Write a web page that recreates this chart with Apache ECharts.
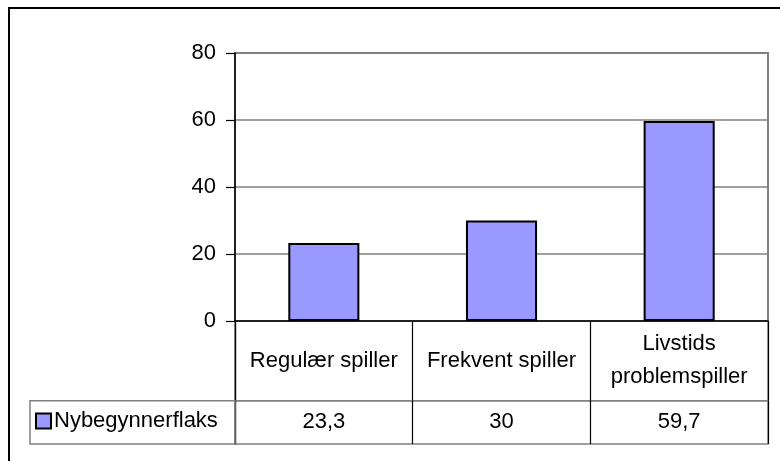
<!DOCTYPE html>
<html>
<head>
<meta charset="utf-8">
<script src="https://cdn.jsdelivr.net/npm/echarts@6/dist/echarts.min.js"></script>
<style>
html,body{margin:0;padding:0;background:#fff;}
#c{width:780px;height:461px;}
</style>
</head>
<body>
<div id="c"></div>
<script>
const categories = ['Regulær spiller', 'Frekvent spiller', 'Livstids\nproblemspiller'];
const seriesName = 'Nybegynnerflaks';
const values = [23.3, 30, 59.7];
const yMin = 0, yMax = 80, yInterval = 20;

const FONT = "'Liberation Sans Narrow', 'Arial Narrow', 'Liberation Sans', Arial, sans-serif";
const FS = 22;
const fmt = v => String(v).replace('.', ',');

const chart = echarts.init(document.getElementById('c'), null, {renderer: 'canvas'});

function tableX(idx) {
  return {type: 'category', gridIndex: idx, data: categories,
    axisLine: {show: false}, axisTick: {show: false}, axisLabel: {show: false},
    splitLine: {show: true, lineStyle: {color: '#000', width: 1.2}}};
}
function tableY(idx, row) {
  return {type: 'category', gridIndex: idx, data: [row],
    axisLine: {show: true, lineStyle: {color: '#000', width: 1.2}},
    axisTick: {show: false}, axisLabel: {show: false}, splitLine: {show: false}};
}
const cellLabel = {show: true, position: 'inside', color: '#000', fontSize: FS, fontFamily: FONT,
  textBorderWidth: 0, textShadowBlur: 0, opacity: 1};

const option = {
  animation: false,
  backgroundColor: '#ffffff',
  textStyle: {fontFamily: FONT},
  grid: [
    {left: 235, right: 12, top: 53, bottom: 140, show: true, borderColor: '#808080', borderWidth: 2},
    {left: 235, right: 12, top: 321, bottom: 60.3, show: true, borderColor: '#808080', borderWidth: 1.5},
    {left: 235, right: 12, top: 400.7, bottom: 17, show: true, borderColor: '#808080', borderWidth: 1.5}
  ],
  xAxis: [
    {type: 'category', gridIndex: 0, data: categories,
     axisLine: {show: true, lineStyle: {color: '#000', width: 1.5}},
     axisTick: {show: false}, axisLabel: {show: false}, splitLine: {show: false}},
    tableX(1),
    tableX(2)
  ],
  yAxis: [
    {type: 'value', gridIndex: 0, min: yMin, max: yMax, interval: yInterval,
     axisLine: {show: true, lineStyle: {color: '#000', width: 1.5}},
     axisTick: {show: true, length: 9, lineStyle: {color: '#000', width: 1.2}},
     axisLabel: {color: '#000', fontSize: FS, fontFamily: FONT, margin: 19},
     splitLine: {show: true, lineStyle: {color: '#808080', width: 1.5}}},
    tableY(1, 'names'),
    tableY(2, 'values')
  ],
  legend: {
    show: true, left: 35, top: 410, itemWidth: 15, itemHeight: 15, itemGap: 8,
    icon: 'rect', padding: 0,
    textStyle: {fontSize: FS, fontFamily: FONT, color: '#000', padding: [0, 0, 0, -2]},
    data: [{name: seriesName, itemStyle: {color: '#9999FF', borderColor: '#000', borderWidth: 2}}]
  },
  series: [
    {name: seriesName, type: 'bar', xAxisIndex: 0, yAxisIndex: 0, data: values,
     barWidth: '40%',
     itemStyle: {color: '#9999FF', borderColor: '#000', borderWidth: 2}},
    {name: 'names', type: 'scatter', xAxisIndex: 1, yAxisIndex: 1,
     symbolSize: 0.01, itemStyle: {color: '#ffffff'},
     data: categories.map((c, i) => [i, 'names']),
     label: Object.assign({}, cellLabel, {lineHeight: 33, formatter: p => categories[p.dataIndex]}),
     emphasis: {disabled: true},
     silent: true},
    {name: 'vals', type: 'scatter', xAxisIndex: 2, yAxisIndex: 2,
     symbolSize: 0.01, itemStyle: {color: '#ffffff'},
     data: values.map((v, i) => [i, 'values']),
     label: Object.assign({}, cellLabel, {formatter: p => fmt(values[p.dataIndex])}),
     emphasis: {disabled: true},
     silent: true}
  ],
  graphic: [
    {type: 'rect', shape: {x: 9, y: 8, width: 820, height: 520}, style: {fill: null, stroke: '#000', lineWidth: 2}, z: 100, silent: true},
    {type: 'rect', shape: {x: 30, y: 400.7, width: 205, height: 43.3}, style: {fill: null, stroke: '#808080', lineWidth: 1.5}, z: 50, silent: true}
  ]
};
chart.setOption(option);
</script>
</body>
</html>
